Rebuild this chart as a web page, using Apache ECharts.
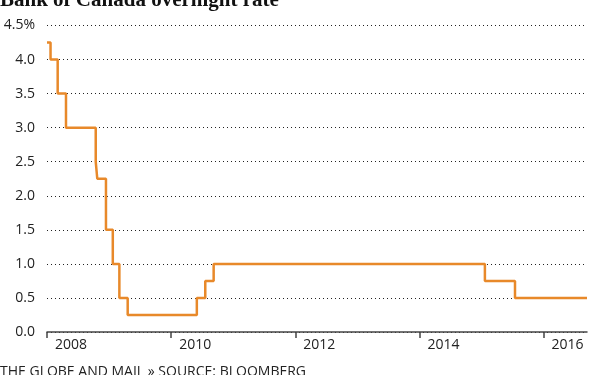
<!DOCTYPE html>
<html>
<head>
<meta charset="utf-8">
<script src="https://cdn.jsdelivr.net/npm/echarts@6/dist/echarts.min.js"></script>
<style>
  html, body { margin: 0; padding: 0; background: #fff; }
  #chart { width: 590px; height: 375px; }
</style>
</head>
<body>
<div id="chart"></div>
<script>
// Dates (decimal years) at which the rate changed, and the new rate
const changeDates = [2008.0, 2008.057, 2008.172, 2008.306, 2008.785, 2008.81, 2008.95, 2009.06, 2009.166, 2009.30, 2010.414, 2010.55, 2010.685, 2015.055, 2015.54, 2016.70];
const rates =       [4.25,   4.0,      3.5,      3.0,      2.5,      2.25,    1.5,     1.0,     0.5,      0.25,    0.5,      0.75,    1.0,      0.75,     0.5,     0.5];
const yTicks = [0, 0.5, 1.0, 1.5, 2.0, 2.5, 3.0, 3.5, 4.0, 4.5];
const xTickYears = [2008, 2010, 2012, 2014, 2016];
const titleText = 'Bank of Canada overnight rate';
const footerText = 'THE GLOBE AND MAIL \u00BB SOURCE: BLOOMBERG';

const chart = echarts.init(document.getElementById('chart'));
const data = changeDates.map((d, i) => [d, rates[i]]);

chart.setOption({
  animation: false,
  title: {
    text: titleText,
    left: 0,
    top: -10,
    padding: 0,
    textStyle: { fontFamily: 'Liberation Serif', fontWeight: 'bold', fontSize: 21, color: '#111' }
  },
  graphic: [{
    type: 'text',
    left: 0,
    top: 365,
    style: { text: footerText, fontFamily: 'Open Sans', fontSize: 14, fill: '#222' }
  }],
  grid: { left: 47, right: 3, top: 25.5, bottom: 43, containLabel: false },
  xAxis: {
    type: 'value',
    min: 2008,
    max: 2016.7,
    interval: 2,
    axisLine: { show: true, lineStyle: { color: '#444', width: 1.5 } },
    axisTick: { show: true, length: 6, lineStyle: { color: '#444', width: 1.5 } },
    splitLine: { show: false },
    axisLabel: {
      showMaxLabel: false,
      align: 'left',
      margin: 6,
      padding: [0, 0, 0, 8],
      fontFamily: 'Open Sans',
      fontSize: 14,
      color: '#222',
      formatter: v => (xTickYears.indexOf(Math.round(v)) >= 0 ? String(Math.round(v)) : '')
    }
  },
  yAxis: {
    type: 'value',
    min: 0,
    max: 4.5,
    interval: 0.5,
    axisLine: { show: false },
    axisTick: { show: false },
    splitLine: { show: true, lineStyle: { color: '#222', width: 1, type: [1, 3], opacity: 1 } },
    axisLabel: {
      margin: 12,
      fontFamily: 'Open Sans',
      fontSize: 14,
      color: '#222',
      formatter: v => (Math.abs(v - 4.5) < 1e-9 ? '4.5%' : v.toFixed(1))
    }
  },
  series: [{
    type: 'line',
    step: 'end',
    data: data,
    showSymbol: false,
    lineStyle: { color: '#E8892A', width: 2.5 },
    z: 5
  }]
});
</script>
</body>
</html>
